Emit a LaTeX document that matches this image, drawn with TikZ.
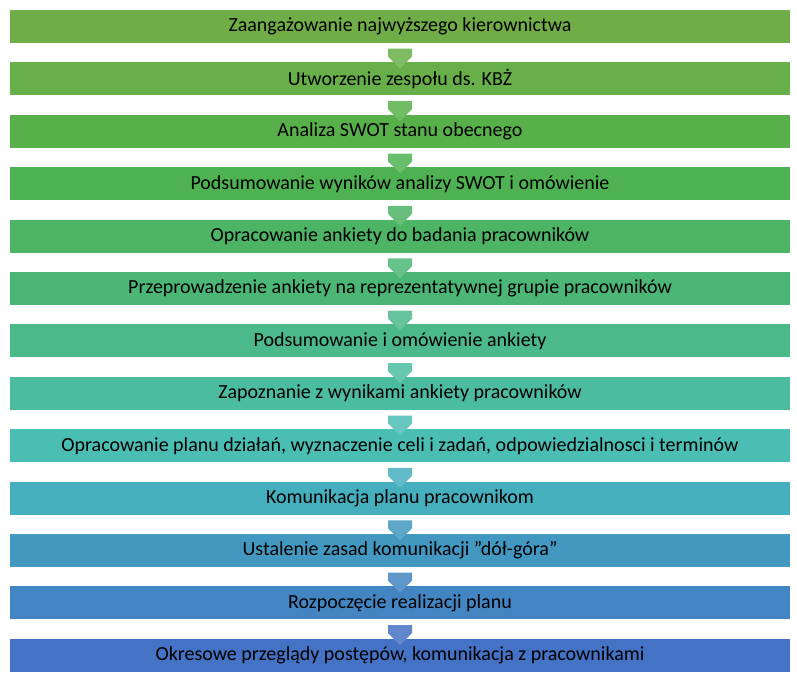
\documentclass[tikz,border=0pt]{standalone}
\usepackage{fontspec}
\setmainfont{Carlito}
\usetikzlibrary{shapes.arrows}
\begin{document}
\begin{tikzpicture}
        [x=1pt,y=-1pt,
         bar/.style={rectangle,minimum width=780pt,minimum height=33pt,inner sep=0pt,
                     font=\fontsize{20}{22}\selectfont,text=black},
         flow/.style={single arrow,shape border rotate=270,minimum width=24pt,
                      single arrow head extend=0pt,single arrow tip angle=90,
                      minimum height=20pt,inner sep=0pt}]
        \useasboundingbox (0,0) rectangle (797,685);
        % bars
        \foreach \i/\r/\g/\b/\t in {
          1/112/173/71/{Zaangażowanie najwyższego kierownictwa},
          2/103/175/72/{Utworzenie zespołu ds. KBŻ},
          3/88/176/74/{Analiza SWOT stanu obecnego},
          4/78/178/82/{Podsumowanie wyników analizy SWOT i omówienie},
          5/76/180/100/{Opracowanie ankiety do badania pracowników},
          6/76/182/118/{Przeprowadzenie ankiety na reprezentatywnej grupie pracowników},
          7/76/185/138/{Podsumowanie i omówienie ankiety},
          8/76/188/160/{Zapoznanie z wynikami ankiety pracowników},
          9/75/190/180/{Opracowanie planu działań, wyznaczenie celi i zadań, odpowiedzialnosci i terminów},
          10/70/175/190/{Komunikacja planu pracownikom},
          11/66/152/192/{Ustalenie zasad komunikacji \symbol{34}dół-góra\symbol{34}},
          12/67/133/194/{Rozpoczęcie realizacji planu},
          13/68/114/196/{Okresowe przeglądy postępów, komunikacja z pracownikami}}
        {
          \xglobal\definecolor{c\i}{RGB}{\r,\g,\b}
          \node[bar,fill=c\i] (S\i) at (400,26.5+52.4*\i-52.4) {\t};
        }
        % arrows
        \foreach \i [evaluate=\i as \j using int(\i+1)] in {1,...,12}
          \path (S\i.south) -- node[flow,fill=c\j!85!white] (A\i) {} (S\j.north);
\end{tikzpicture}
\end{document}
